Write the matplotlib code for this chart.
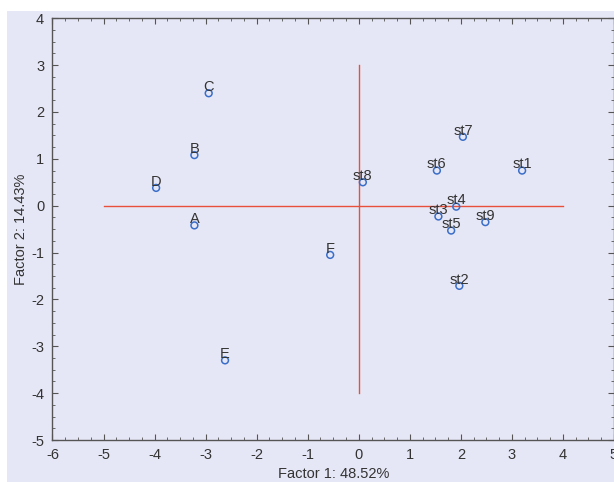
import matplotlib
matplotlib.use("Agg")
from matplotlib import pyplot as plt
from matplotlib.ticker import MultipleLocator
from matplotlib.patches import Rectangle

# ---------- data ----------
labels = ["A", "B", "C", "D", "E", "F",
          "st1", "st2", "st3", "st4", "st5", "st6", "st7", "st8", "st9"]
factor1 = [-3.22, -3.22, -2.94, -3.97, -2.62, -0.56,
           3.20, 1.97, 1.56, 1.91, 1.81, 1.53, 2.04, 0.08, 2.48]
factor2 = [-0.42, 1.08, 2.40, 0.38, -3.30, -1.05,
           0.75, -1.71, -0.23, -0.02, -0.53, 0.75, 1.47, 0.50, -0.35]

# red reference axes
hline_x = [-5, 4]
hline_y = [0, 0]
vline_x = [0, 0]
vline_y = [-4, 3]

bg = "#e6e7f6"
txt = "#333333"

plt.rcParams['font.family'] = ['Liberation Sans', 'DejaVu Sans']
plt.rcParams['axes.unicode_minus'] = False

fig = plt.figure(figsize=(6.14, 4.82), dpi=100)
fig.patch.set_facecolor(bg)
# white margins of the scanned page
fig.patches.append(Rectangle((0, 0.977), 1, 0.03, transform=fig.transFigure,
                             facecolor="white", edgecolor="none", zorder=-1))
fig.patches.append(Rectangle((0, 0), 0.011, 1, transform=fig.transFigure,
                             facecolor="white", edgecolor="none", zorder=-1))

ax = fig.add_axes([0.0855, 0.0871, 0.9145, 0.875])
ax.set_facecolor(bg)

ax.plot(hline_x, hline_y, color="#e8503c", linewidth=1.0, zorder=1)
ax.plot(vline_x, vline_y, color="#e8503c", linewidth=1.0, zorder=1)

ax.scatter(factor1, factor2, s=24, facecolors="none", edgecolors="#3a6ec8",
           linewidths=1.1, zorder=3)
for lab, x, y in zip(labels, factor1, factor2):
    ax.annotate(lab, (x, y), xytext=(0, -0.5), textcoords="offset points",
                ha="center", va="bottom", fontsize=10.5, color=txt, zorder=4)

ax.set_xlim(-6, 5)
ax.set_ylim(-5, 4)
ax.xaxis.set_major_locator(MultipleLocator(1))
ax.yaxis.set_major_locator(MultipleLocator(1))
ax.xaxis.set_minor_locator(MultipleLocator(0.25))
ax.yaxis.set_minor_locator(MultipleLocator(0.25))
ax.tick_params(which="both", direction="in", top=True, right=True,
               color="#555555", labelcolor=txt, labelsize=10.5)
ax.tick_params(which="major", length=4, width=0.8, pad=6)
ax.tick_params(which="minor", length=2.5, width=0.6)
for sp in ax.spines.values():
    sp.set_color("#555555")
    sp.set_linewidth(1.0)

ax.set_xlabel("Factor 1: 48.52%", fontsize=10.5, color=txt, labelpad=3)
ax.set_ylabel("Factor 2: 14.43%", fontsize=10.5, color=txt, labelpad=2)

fig.savefig("out.png", dpi=100, facecolor=fig.get_facecolor())
